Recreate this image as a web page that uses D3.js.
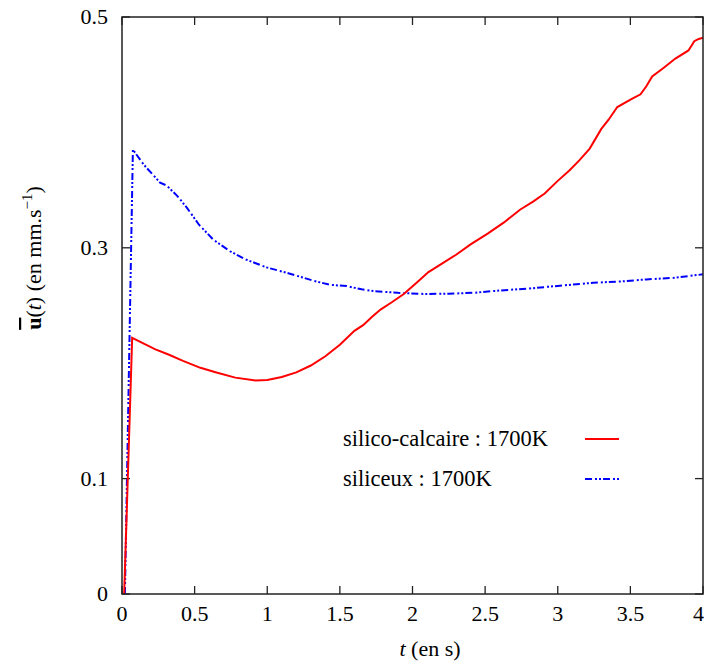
<!DOCTYPE html>
<html><head><meta charset="utf-8">
<script src="https://cdn.jsdelivr.net/npm/d3@7"></script>
<style>body{margin:0;background:#fff}svg{display:block}</style>
</head><body><svg id="c" width="704" height="664"></svg>
<script>
const xTicks = [0, 0.5, 1, 1.5, 2, 2.5, 3, 3.5, 4];
const yTicks = [0, 0.1, 0.3, 0.5];

const tCalc = [0.015,0.07,0.15,0.23,0.32,0.42,0.54,0.65,0.78,0.92,1.0,1.1,1.2,1.3,1.4,1.5,1.6,1.66,1.72,1.78,1.86,1.94,2.03,2.11,2.2,2.3,2.4,2.52,2.63,2.74,2.83,2.91,3.0,3.08,3.15,3.22,3.3,3.35,3.41,3.51,3.57,3.61,3.65,3.73,3.81,3.9,3.94,3.97,4.0];
const uCalc = [0,0.222,0.217,0.212,0.2075,0.202,0.196,0.192,0.1875,0.185,0.1855,0.188,0.192,0.198,0.206,0.216,0.228,0.233,0.24,0.2465,0.253,0.26,0.27,0.279,0.286,0.294,0.303,0.3125,0.322,0.333,0.34,0.347,0.358,0.367,0.376,0.386,0.403,0.411,0.422,0.429,0.433,0.44,0.4485,0.456,0.464,0.471,0.479,0.481,0.482];

const tSil = [0.02,0.075,0.15,0.262,0.307,0.38,0.445,0.53,0.629,0.744,0.85,0.996,1.145,1.317,1.43,1.547,1.65,1.73,1.9,2.074,2.25,2.42,2.6,2.81,3.0,3.245,3.45,3.61,3.8,4.0];
const uSil = [0,0.385,0.372,0.3565,0.354,0.345,0.335,0.32,0.307,0.297,0.29,0.283,0.278,0.2715,0.268,0.2668,0.264,0.2625,0.261,0.26,0.2602,0.261,0.263,0.2648,0.267,0.2697,0.271,0.2726,0.274,0.277];

const seriesNames = ["silico-calcaire : 1700K", "siliceux : 1700K"];
const seriesColors = ["#ff0000", "#0000ff"];

const FONT = "Liberation Serif";
const svg = d3.select("#c");
const L = 122, R = 703, T = 17, B = 594;
const x = d3.scaleLinear().domain([0, 4]).range([L, R]);
const y = d3.scaleLinear().domain([0, 0.5]).range([B, T]);
const fs = 22;

const tl = 8;
const ax = svg.append("g").attr("stroke", "#222").attr("stroke-width", 1.3);
xTicks.forEach(v => {
  ax.append("line").attr("x1", x(v)).attr("x2", x(v)).attr("y1", B).attr("y2", B - tl);
  ax.append("line").attr("x1", x(v)).attr("x2", x(v)).attr("y1", T).attr("y2", T + tl);
});
yTicks.forEach(v => {
  ax.append("line").attr("x1", L).attr("x2", L + tl).attr("y1", y(v)).attr("y2", y(v));
  ax.append("line").attr("x1", R).attr("x2", R - tl).attr("y1", y(v)).attr("y2", y(v));
});

const line = d3.line().x(d => x(d[0])).y(d => y(d[1]));
const calcData = tCalc.map((t, i) => [t, uCalc[i]]);
const silData = tSil.map((t, i) => [t, uSil[i]]);
svg.append("path").datum(silData).attr("d", line).attr("fill", "none")
  .attr("stroke", seriesColors[1]).attr("stroke-width", 2).attr("stroke-dasharray", "7,3,2,2,2,2");
svg.append("path").datum(calcData).attr("d", line).attr("fill", "none")
  .attr("stroke", seriesColors[0]).attr("stroke-width", 2);

svg.append("rect").attr("x", L).attr("y", T).attr("width", R - L).attr("height", B - T)
  .attr("fill", "none").attr("stroke", "#222").attr("stroke-width", 1.5);

xTicks.forEach((d, i) => {
  const last = i === xTicks.length - 1;
  svg.append("text").attr("x", last ? 704 : x(d)).attr("y", 621).attr("font-size", fs)
    .attr("font-family", FONT).attr("text-anchor", last ? "end" : "middle").text(String(d));
});
yTicks.forEach(d => {
  svg.append("text").attr("x", 108).attr("y", y(d) + 7).attr("font-size", fs)
    .attr("font-family", FONT).attr("text-anchor", "end").text(String(d));
});

[0, 1].forEach(i => {
  const by = 446 + i * 40;
  svg.append("text").attr("x", 343).attr("y", by).attr("font-size", 22.5)
    .attr("font-family", FONT).text(seriesNames[i]);
  svg.append("line").attr("x1", 585).attr("x2", 619).attr("y1", by - 7).attr("y2", by - 7)
    .attr("stroke", seriesColors[i]).attr("stroke-width", 2)
    .attr("stroke-dasharray", i === 1 ? "7,3,2,2,2,2" : null);
});

const xl = svg.append("text").attr("x", 430).attr("y", 656).attr("font-size", fs)
  .attr("font-family", FONT).attr("text-anchor", "middle");
xl.append("tspan").attr("font-style", "italic").text("t");
xl.append("tspan").text(" (en s)");

const yl = svg.append("text").attr("transform", "translate(41,258) rotate(-90)").attr("font-size", fs)
  .attr("font-family", FONT).attr("text-anchor", "middle");
yl.append("tspan").attr("font-weight", "bold").attr("text-decoration", "overline").text("u");
yl.append("tspan").text("(");
yl.append("tspan").attr("font-style", "italic").text("t");
yl.append("tspan").text(") (en mm.s");
yl.append("tspan").attr("dy", -9).attr("font-size", 15).text("−1");
yl.append("tspan").attr("dy", 9).text(")");
</script></body></html>
